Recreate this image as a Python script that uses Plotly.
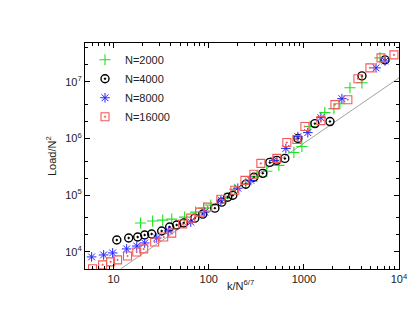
import plotly.graph_objects as go

# N=2000
x_2000 = [19.2, 25.7, 32.8, 40.8, 55.8, 72.9, 88.5, 105, 147, 188, 245, 320, 408, 546,
          785, 953, 1160, 1660, 2070, 2390, 3050, 4080, 6310]
y_2000 = [32300, 35000, 36400, 37900, 41100, 50400, 59200, 66800, 88500, 127000, 163000,
          215000, 264000, 336000, 568000, 724000, 1.63e6, 2.86e6, 3.36e6, 4.11e6, 7.85e6,
          9.6e6, 2.64e7]

# N=4000
x_4000 = [10.8, 14.4, 17.9, 21.2, 25.1, 32.0, 38.8, 46.0, 54.5, 71.3, 86.5, 116, 137, 158,
          179, 245, 298, 370, 438, 520, 631, 865, 1306, 1880, 4080, 7130]
y_4000 = [16200, 17600, 18300, 19900, 20700, 23400, 27500, 29800, 32300, 39400, 46400,
          59200, 75400, 92200, 100000, 156000, 207000, 243000, 379000, 411000, 446000,
          1.0e6, 1.83e6, 1.99e6, 1.27e7, 2.43e7]

# N=8000
x_8000 = [5.87, 7.85, 9.76, 13.7, 17.5, 21.2, 28.4, 37.9, 64.7, 90.7, 134, 202, 277, 483,
          647, 865, 1100, 1510, 2510, 5730, 7130]
y_8000 = [8170, 8850, 9600, 11300, 12700, 14400, 17600, 23400, 33600, 50400, 81700,
          133000, 183000, 411000, 668000, 1.08e6, 1.27e6, 2.33e6, 5.04e6, 1.76e7, 2.33e7]

# N=16000
x_16000 = [6.0, 7.66, 9.3, 11.0, 14.0, 17.5, 20.7, 27.0, 33.6, 40.8, 53.2, 64.7, 80.4, 97.5,
           134, 188, 240, 298, 353, 520, 662, 844, 1025, 1510, 2120, 2900, 3700, 4950,
           6470, 8850]
y_16000 = [5040, 5920, 6680, 7240, 8500, 10000, 11300, 15000, 18300, 21500, 31000, 39400,
           50400, 61600, 85100, 122000, 183000, 234000, 364000, 446000, 851000, 960000,
           1.63e6, 2.07e6, 3.95e6, 4.83e6, 1.13e7, 1.76e7, 2.64e7, 2.98e7]

# reference line
fit_x = [11.8, 10000]
fit_y = [5000, 1.17e7]

x_ticks = [10, 100, 1000, 10000]
x_ticktext = ["10", "100", "1000", "10<sup>4</sup>"]
y_ticks = [1e4, 1e5, 1e6, 1e7]
y_ticktext = ["10<sup>4</sup>", "10<sup>5</sup>", "10<sup>6</sup>", "10<sup>7</sup>"]

x_minor = [m * 10 ** e for e in range(0, 4) for m in range(2, 10)]
y_minor = [m * 10 ** e for e in range(3, 8) for m in (2, 4)]

fig = go.Figure()
fig.add_trace(go.Scatter(x=fit_x, y=fit_y, mode="lines", showlegend=False,
                         line=dict(color="#8a8a8a", width=0.8)))
fig.add_trace(go.Scatter(x=x_2000, y=y_2000, mode="markers", name="N=2000",
                         marker=dict(symbol="cross-thin-open", size=8, color="#22e022",
                                     line=dict(color="#22e022", width=1.1))))
fig.add_trace(go.Scatter(x=x_4000, y=y_4000, mode="markers", name="N=4000",
                         marker=dict(symbol="circle-open-dot", size=8, color="black",
                                     line=dict(color="black", width=1.4))))
fig.add_trace(go.Scatter(x=x_8000, y=y_8000, mode="markers", name="N=8000",
                         marker=dict(symbol="asterisk-open", size=8, color="#2626ff",
                                     line=dict(color="#2626ff", width=1.0))))
fig.add_trace(go.Scatter(x=x_16000, y=y_16000, mode="markers", name="N=16000",
                         marker=dict(symbol="square-open-dot", size=8, color="#f25a5a",
                                     line=dict(color="#f25a5a", width=1.1))))

axis_common = dict(type="log", showline=True, linecolor="black", linewidth=1.2,
                   mirror="ticks", ticks="inside", ticklen=5, tickcolor="black",
                   showgrid=False, zeroline=False,
                   tickfont=dict(family="Liberation Sans", size=11, color="#222"))

fig.update_xaxes(**axis_common, range=[0.699, 4.0], tickvals=x_ticks, ticktext=x_ticktext,
                 minor=dict(ticks="inside", ticklen=3, tickcolor="black", tickvals=x_minor))
fig.update_yaxes(**axis_common, range=[3.699, 7.684], tickvals=y_ticks, ticktext=y_ticktext,
                 minor=dict(ticks="inside", ticklen=3, tickcolor="black", tickvals=y_minor))

fig.add_annotation(text="k/N<sup>6/7</sup>", xref="paper", yref="paper", x=0.494, y=-0.071,
                   xanchor="center", yanchor="middle", showarrow=False,
                   font=dict(family="Liberation Sans", size=11, color="#222"))
fig.add_annotation(text="Load/N<sup>2</sup>", xref="paper", yref="paper", x=-0.108, y=0.5,
                   xanchor="center", yanchor="middle", textangle=-90, showarrow=False,
                   font=dict(family="Liberation Sans", size=11, color="#222"))

fig.update_layout(
    width=415, height=321,
    margin=dict(l=77, r=24, t=35, b=60),
    paper_bgcolor="white", plot_bgcolor="white",
    legend=dict(x=0.0, y=0.99, xanchor="left", yanchor="top", bgcolor="rgba(0,0,0,0)",
                font=dict(family="Liberation Sans", size=11, color="#222"),
                tracegroupgap=0, itemwidth=30),
)

fig.write_html("out.html")
